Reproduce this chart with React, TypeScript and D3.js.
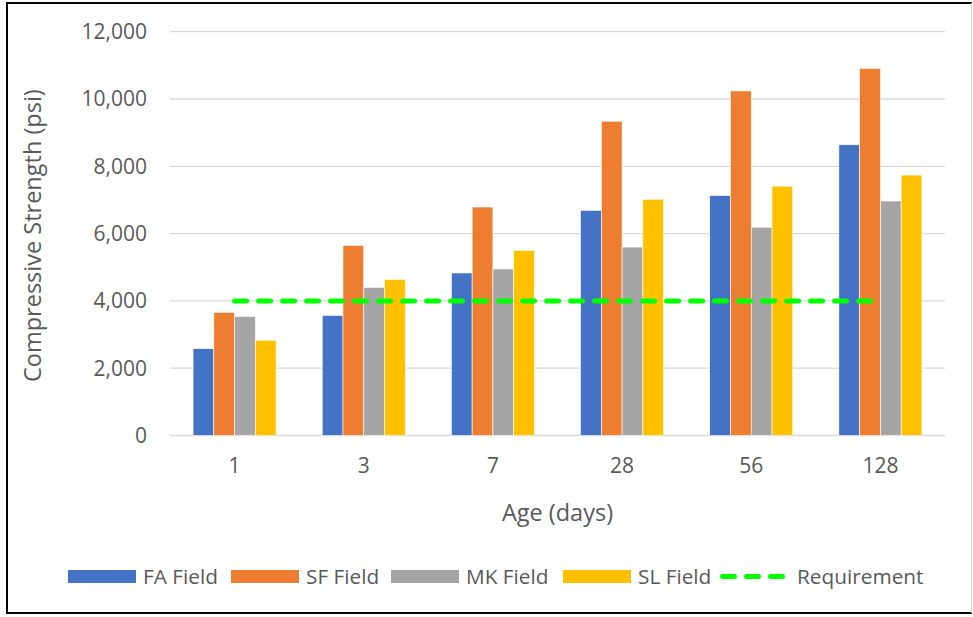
import React from "react";
import * as d3 from "d3";

const categories = ["1", "3", "7", "28", "56", "128"];
const seriesNames = ["FA Field", "SF Field", "MK Field", "SL Field"];
const faField = [2580, 3570, 4830, 6690, 7130, 8640];
const sfField = [3660, 5650, 6790, 9340, 10240, 10910];
const mkField = [3540, 4400, 4950, 5600, 6190, 6970];
const slField = [2830, 4640, 5500, 7020, 7410, 7740];
const requirement = [4000, 4000, 4000, 4000, 4000, 4000];
const yTicks = [0, 2000, 4000, 6000, 8000, 10000, 12000];
const seriesValues = [faField, sfField, mkField, slField];
const colors = ["#4472C4", "#ED7D31", "#A5A5A5", "#FFC000"];
const reqColor = "#00FF00";

const W = 973;
const H = 617;
const plotL = 170;
const plotR = 945;
const plotT = 31.7;
const plotB = 435.5;
const FONT = "'Open Sans', sans-serif";
const TEXT = "#595959";

export default function App() {
  const x0 = d3.scaleBand<string>().domain(categories).range([plotL, plotR]).padding(0);
  const x1 = d3
    .scaleBand<string>()
    .domain(seriesNames)
    .range([0, x0.bandwidth()])
    .paddingInner(0)
    .paddingOuter(1.11);
  const y = d3.scaleLinear().domain([0, 12000]).range([plotB, plotT]);
  const fmt = d3.format(",");

  const line = d3
    .line<number>()
    .x((_, i) => (x0(categories[i]) as number) + x0.bandwidth() / 2)
    .y((d) => y(d));

  const legendSwatchX = [68, 231, 391, 563];
  const legendLineX = 720;

  return (
    <svg
      width={W}
      height={H}
      style={{ position: "absolute", left: 0, top: 0, background: "#fff" }}
      fontFamily={FONT}
    >
      <rect x={0} y={0} width={W} height={H} fill="#fff" />
      {yTicks.map((t) => (
        <line
          key={"g" + t}
          x1={plotL}
          x2={plotR}
          y1={y(t)}
          y2={y(t)}
          stroke="#D9D9D9"
          strokeWidth={1.3}
        />
      ))}
      {yTicks.map((t) => (
        <text
          key={"yt" + t}
          x={147}
          y={y(t) + 7.3}
          textAnchor="end"
          fontSize={21}
          fill={TEXT}
        >
          {fmt(t)}
        </text>
      ))}
      {categories.map((c, ci) => (
        <g key={"c" + c} transform={`translate(${x0(c)},0)`}>
          {seriesNames.map((s, si) => {
            const v = seriesValues[si][ci];
            return (
              <rect
                key={s}
                x={x1(s)}
                y={y(v)}
                width={x1.bandwidth()}
                height={plotB - y(v)}
                fill={colors[si]}
                stroke="#fff"
                strokeWidth={0.6}
              />
            );
          })}
        </g>
      ))}
      <path
        d={line(requirement) || ""}
        fill="none"
        stroke={reqColor}
        strokeWidth={5}
        strokeLinecap="round"
        strokeDasharray="12 12"
      />
      {categories.map((c) => (
        <text
          key={"xt" + c}
          x={(x0(c) as number) + x0.bandwidth() / 2}
          y={472.5}
          textAnchor="middle"
          fontSize={21}
          fill={TEXT}
        >
          {c}
        </text>
      ))}
      <text
        x={(plotL + plotR) / 2}
        y={521}
        textAnchor="middle"
        fontSize={23.5}
        fill={TEXT}
      >
        Age (days)
      </text>
      <text
        transform={`translate(41,${(plotT + plotB) / 2 + 2}) rotate(-90)`}
        textAnchor="middle"
        fontSize={23.5}
        fill={TEXT}
      >
        Compressive Strength (psi)
      </text>
      {seriesNames.map((s, si) => (
        <g key={"lg" + s}>
          <rect x={legendSwatchX[si]} y={570} width={68} height={13} fill={colors[si]} />
          <text x={legendSwatchX[si] + 75} y={583.5} fontSize={20.8} fill={TEXT}>
            {s}
          </text>
        </g>
      ))}
      <line
        x1={legendLineX + 2.5}
        x2={legendLineX + 65 - 2.5}
        y1={576.5}
        y2={576.5}
        stroke={reqColor}
        strokeWidth={5}
        strokeLinecap="round"
        strokeDasharray="12 12"
      />
      <text x={legendLineX + 77} y={583.5} fontSize={20.8} fill={TEXT}>
        Requirement
      </text>
      <line x1={7} x2={7} y1={2} y2={614} stroke="#000" strokeWidth={2} />
      <line x1={6} x2={972} y1={3} y2={3} stroke="#000" strokeWidth={2} />
      <line x1={6} x2={972} y1={613} y2={613} stroke="#000" strokeWidth={2} />
      <line x1={971.5} x2={971.5} y1={3} y2={613} stroke="#D9D9D9" strokeWidth={1} />
    </svg>
  );
}
